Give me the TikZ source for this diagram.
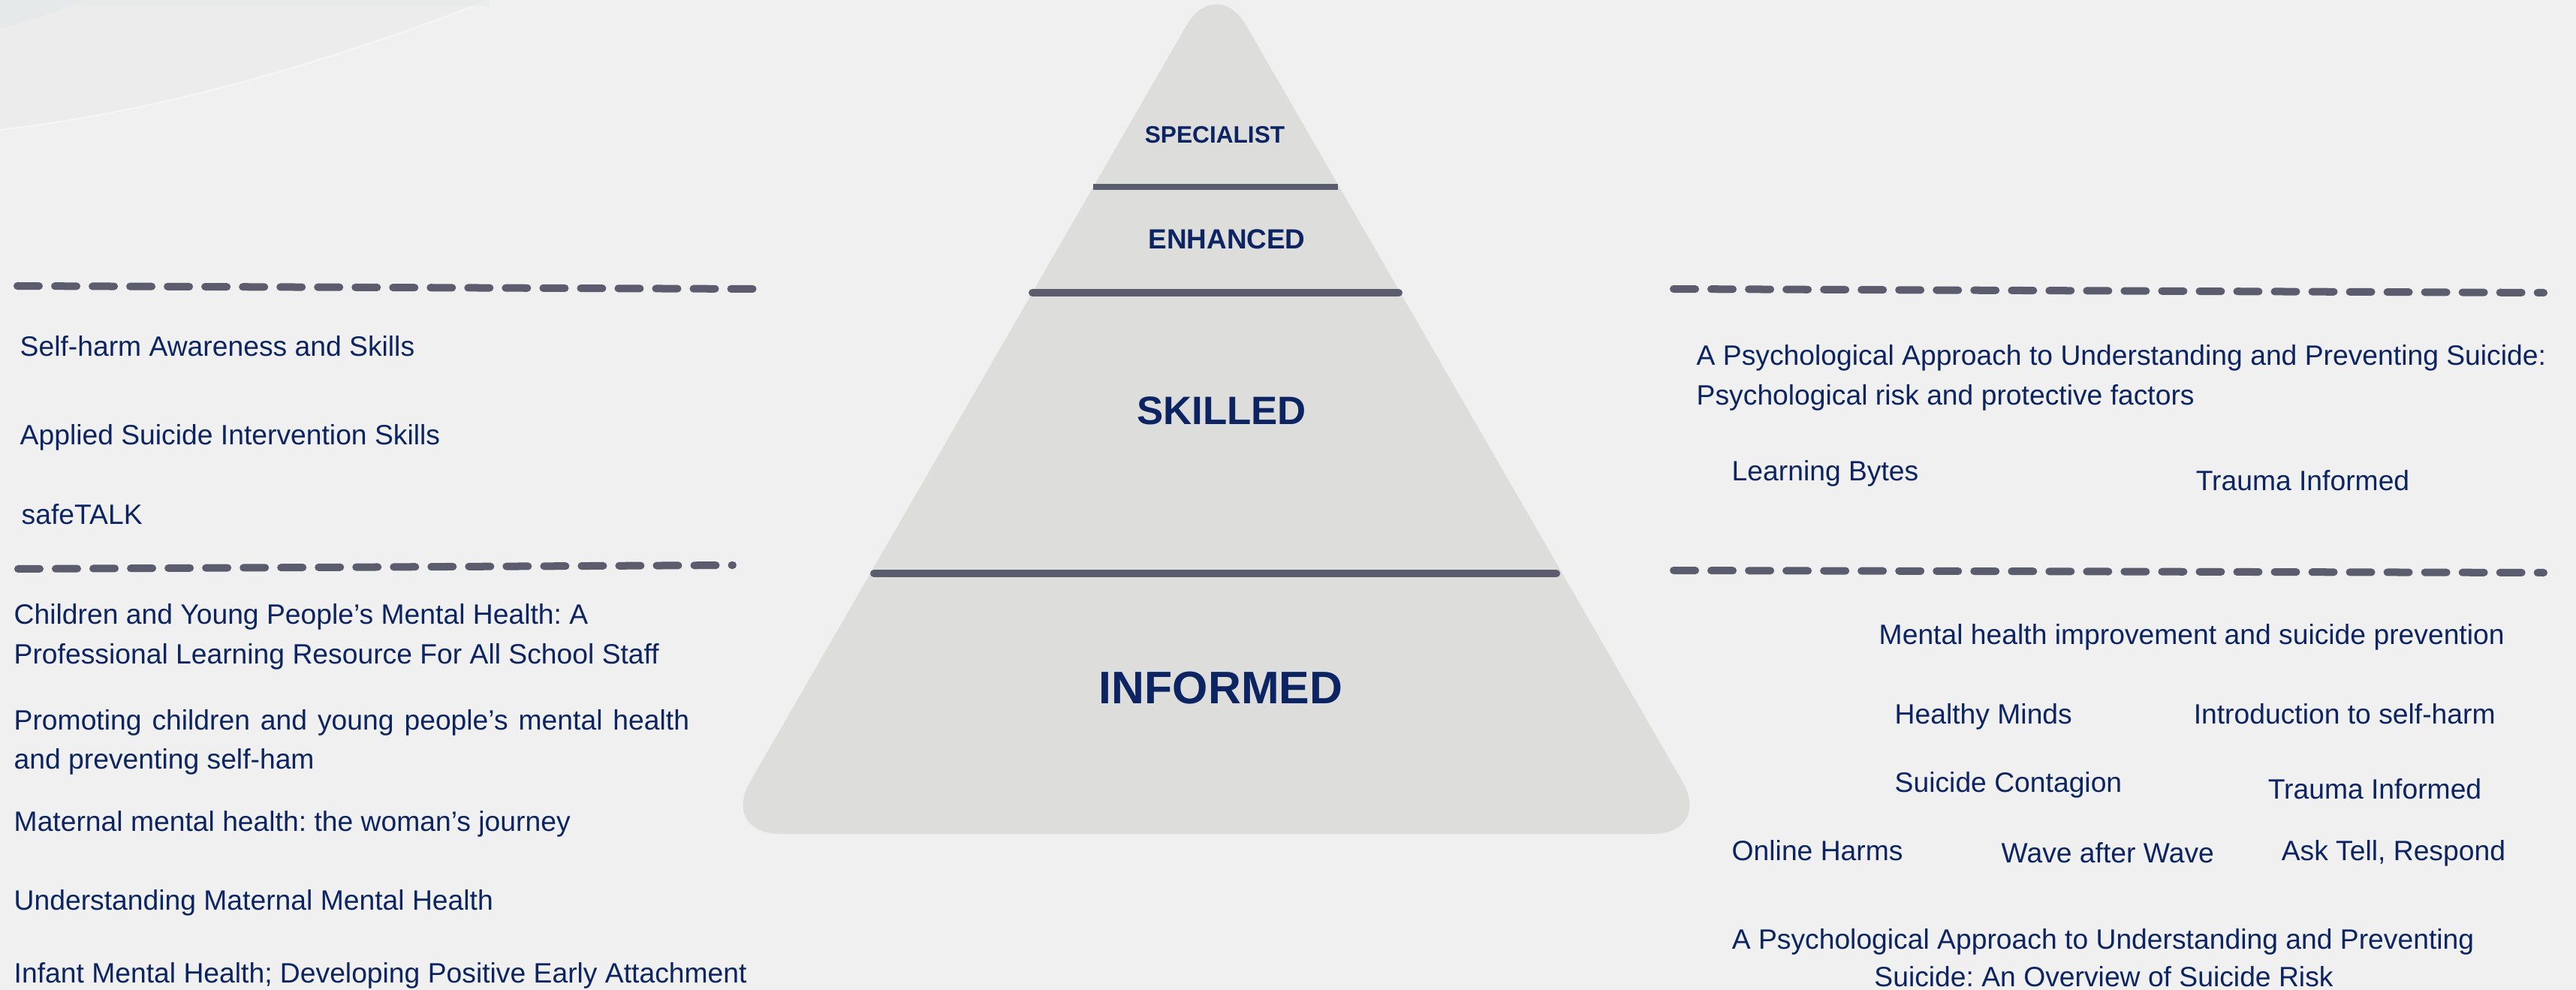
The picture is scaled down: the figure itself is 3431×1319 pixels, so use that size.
\documentclass[tikz,border=0pt]{standalone}
\usepackage{fontspec}
\setmainfont{Liberation Sans}
\frenchspacing
\definecolor{bgc}{HTML}{F0F0F0}
\definecolor{pyr}{HTML}{DDDDDB}
\definecolor{barc}{HTML}{5B5C6E}
\definecolor{navy}{HTML}{0C2461}
\definecolor{decoA}{HTML}{ECECEC}
\definecolor{decoB}{HTML}{E6E9E9}
\begin{document}
\begin{tikzpicture}[x=0.01cm,y=-0.01cm,
  item/.style={anchor=base west,inner sep=0pt,text=navy,font=\fontsize{10.6}{14.8}\selectfont},
  itemc/.style={item,anchor=base},
  tier/.style={anchor=base,inner sep=0pt,text=navy,font=\bfseries},
  dashline/.style={draw=barc,line width=0.1cm,line cap=round,dash pattern=on 0.29cm off 0.21cm},
  tierline/.style={draw=barc,line width=0.1cm,line cap=round}]
\useasboundingbox (0,0) rectangle (3431,1319);
\fill[bgc] (0,0) rectangle (3431,1319);
% top-left decoration
\fill[decoA] (0,0) -- (652,0) .. controls (420,90) and (200,150) .. (0,173) -- cycle;
\draw[white,line width=0.6pt,opacity=0.45] (652,0) .. controls (420,90) and (200,150) .. (0,173);
\fill[decoB] (0,0) -- (112,0) .. controls (80,15) and (40,28) .. (0,38) -- cycle;
\fill[decoB,opacity=0.6] (0,0) rectangle (652,8);
% pyramid
\fill[pyr,rounded corners=0.8cm] (1620,-35) -- (2281,1111) -- (959,1111) -- cycle;
\draw[barc,line width=0.08cm] (1456,249) -- (1782,249);
\draw[tierline] (1375,390) -- (1863,390);
\draw[tierline] (1164,764) -- (2073,764);
\node[tier,font=\bfseries\fontsize{9}{11}\selectfont] (specialist) at (1618,191) {SPECIALIST};
\node[tier,font=\bfseries\fontsize{10.5}{13}\selectfont] (enhanced) at (1634,332) {ENHANCED};
\node[tier,font=\bfseries\fontsize{15}{18}\selectfont] (skilled) at (1627,566) {SKILLED};
\node[tier,font=\bfseries\fontsize{17.3}{20}\selectfont] (informed) at (1626,937) {INFORMED};
% dashed separators
\coordinate (l1a) at (23,381); \coordinate (l1b) at (1003,385);
\coordinate (l2a) at (24,758); \coordinate (l2b) at (976,753);
\coordinate (r1a) at (2229,385); \coordinate (r1b) at (3388,390);
\coordinate (r2a) at (2229,760); \coordinate (r2b) at (3388,763);
\draw[dashline] (l1a) -- (l1b);
\draw[dashline] (l2a) -- (l2b);
\draw[dashline] (r1a) -- (r1b);
\draw[dashline] (r2a) -- (r2b);
% left texts
\node[item] (selfharm) at (26,475) {Self-harm Awareness and Skills};
\node[item] (asist) at (26,593) {Applied Suicide Intervention Skills};
\node[item] (safetalk) at (28,698) {safeTALK};
\node[item] (cyp1) at (18,831) {Children and Young People’s Mental Health: A};
\node[item] (cyp2) at (18,884) {Professional Learning Resource For All School Staff};
\node[item] (prom1) at (18,972) {\makebox[8.99cm][s]{Promoting children and young people’s mental health}};
\node[item] (prom2) at (18,1024) {and preventing self-ham};
\node[item] (mat1) at (18,1107) {Maternal mental health: the woman’s journey};
\node[item] (mat2) at (18,1212) {Understanding Maternal Mental Health};
\node[item] (infant) at (18,1309) {Infant Mental Health; Developing Positive Early Attachment};
% right texts
\node[item] (psyA1) at (2259,487) {A Psychological Approach to Understanding and Preventing Suicide:};
\node[item] (psyA2) at (2259,540) {Psychological risk and protective factors};
\node[item] (bytes) at (2306,640) {Learning Bytes};
\node[item] (trauma1) at (2924,653) {Trauma Informed};
\node[item] (mhi) at (2502,858) {Mental health improvement and suicide prevention};
\node[item] (healthy) at (2523,964) {Healthy Minds};
\node[item] (intro) at (2921,964) {Introduction to self-harm};
\node[item] (contagion) at (2523,1055) {Suicide Contagion};
\node[item] (trauma2) at (3020,1064) {Trauma Informed};
\node[item] (online) at (2306,1146) {Online Harms};
\node[item] (wave) at (2665,1149) {Wave after Wave};
\node[item] (ask) at (3038,1146) {Ask Tell, Respond};
\node[itemc] (psyB1) at (2801,1264) {A Psychological Approach to Understanding and Preventing};
\node[itemc] (psyB2) at (2802,1314) {Suicide: An Overview of Suicide Risk};
\end{tikzpicture}
\end{document}
